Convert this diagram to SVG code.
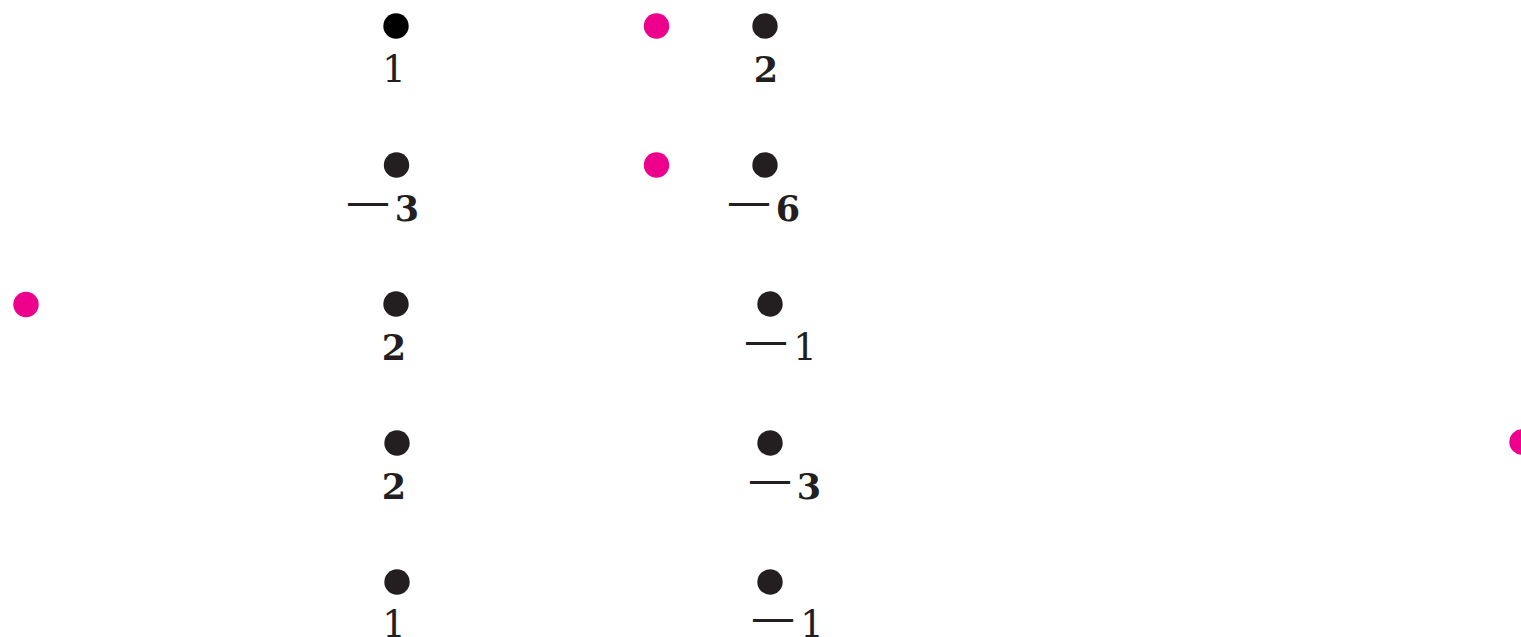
<svg xmlns="http://www.w3.org/2000/svg" width="1521" height="637" viewBox="0 0 1521 637">
<style>
.dot{fill:#231f20}
.pink{fill:#ec008c}
.lbl{font-family:"DejaVu Serif","Liberation Serif",serif;font-size:35px;font-weight:bold;fill:#231f20;text-anchor:middle}
.one{font-weight:normal;font-size:37px}
.dash{font-size:44px;font-weight:normal}
</style>
<rect width="1521" height="637" fill="#ffffff"/>
<g id="pink-markers">
<circle class="pink" cx="656.5" cy="26" r="12.7"/>
<circle class="pink" cx="656.5" cy="165" r="12.7"/>
<circle class="pink" cx="26" cy="304.5" r="12.7"/>
<circle class="pink" cx="1522" cy="442" r="12.7"/>
</g>
<g id="col1">
<g id="n1-1"><circle cx="396" cy="26" r="12.7" fill="#000"/><text class="lbl one" x="394" y="82">1</text></g>
<g id="n1-2"><circle class="dot" cx="396.5" cy="165" r="12.7"/><text class="lbl" y="221"><tspan class="dash" x="368" dy="-5">—</tspan><tspan x="407" dy="5">3</tspan></text></g>
<g id="n1-3"><circle class="dot" cx="396" cy="304" r="12.7"/><text class="lbl" x="394" y="360">2</text></g>
<g id="n1-4"><circle class="dot" cx="397" cy="443" r="12.7"/><text class="lbl" x="394" y="499">2</text></g>
<g id="n1-5"><circle class="dot" cx="397" cy="582" r="12.7"/><text class="lbl one" x="394" y="637">1</text></g>
</g>
<g id="col2">
<g id="n2-1"><circle class="dot" cx="765" cy="26" r="12.7"/><text class="lbl" x="766" y="82">2</text></g>
<g id="n2-2"><circle class="dot" cx="765" cy="165" r="12.7"/><text class="lbl" y="221"><tspan class="dash" x="749" dy="-5">—</tspan><tspan x="788" dy="5">6</tspan></text></g>
<g id="n2-3"><circle class="dot" cx="770" cy="304" r="12.7"/><text class="lbl" y="360"><tspan class="dash" x="766" dy="-5">—</tspan><tspan class="one" x="805" dy="5">1</tspan></text></g>
<g id="n2-4"><circle class="dot" cx="770" cy="443" r="12.7"/><text class="lbl" y="499"><tspan class="dash" x="770" dy="-5">—</tspan><tspan x="809" dy="5">3</tspan></text></g>
<g id="n2-5"><circle class="dot" cx="770" cy="582" r="12.7"/><text class="lbl" y="637"><tspan class="dash" x="773" dy="-5">—</tspan><tspan class="one" x="812" dy="5">1</tspan></text></g>
</g>
<g id="connectors"></g>
</svg>
